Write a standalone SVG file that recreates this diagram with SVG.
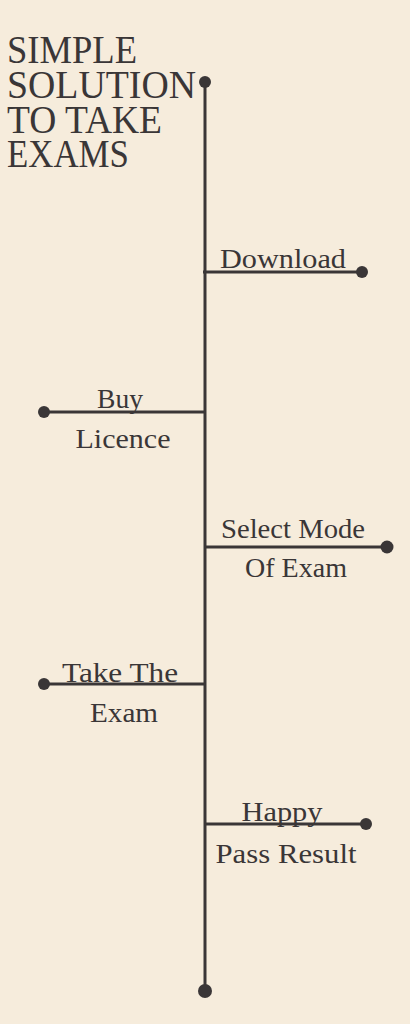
<svg xmlns="http://www.w3.org/2000/svg" width="410" height="1024" viewBox="0 0 410 1024">
<style>
.title{font-family:"Liberation Serif","DejaVu Serif",serif;font-size:41px;fill:#3a3637;}
.lbl{font-family:"Liberation Serif","DejaVu Serif",serif;font-size:28px;fill:#3a3637;text-anchor:middle;}
.ln{stroke:#3a3637;stroke-width:3;fill:none;}
.dot{fill:#3a3637;}
</style>
<rect width="410" height="1024" fill="#f6ecdc"/>
<g id="title">
<text class="title" x="7" y="63" textLength="130" lengthAdjust="spacingAndGlyphs">SIMPLE</text>
<text class="title" x="7" y="98" textLength="189" lengthAdjust="spacingAndGlyphs">SOLUTION</text>
<text class="title" x="7" y="133" textLength="155" lengthAdjust="spacingAndGlyphs">TO TAKE</text>
<text class="title" x="7" y="167" textLength="122" lengthAdjust="spacingAndGlyphs">EXAMS</text>
</g>
<g id="connectors">
<line class="ln" x1="205" y1="82" x2="205" y2="991"/>
<line class="ln" x1="203" y1="272" x2="362" y2="272"/>
<line class="ln" x1="44" y1="412" x2="205" y2="412"/>
<line class="ln" x1="205" y1="547" x2="387" y2="547"/>
<line class="ln" x1="44" y1="684" x2="205" y2="684"/>
<line class="ln" x1="205" y1="824" x2="366" y2="824"/>
<circle class="dot" cx="205" cy="82" r="6"/>
<circle class="dot" cx="205" cy="991" r="7"/>
</g>
<g id="download">
<circle class="dot" cx="362" cy="272" r="6"/>
<text class="lbl" x="283" y="268" textLength="126" lengthAdjust="spacingAndGlyphs">Download</text>
</g>
<g id="buy-licence">
<circle class="dot" cx="44" cy="412" r="6"/>
<text class="lbl" x="120" y="408" textLength="46" lengthAdjust="spacingAndGlyphs">Buy</text>
<text class="lbl" x="123" y="448" textLength="95" lengthAdjust="spacingAndGlyphs">Licence</text>
</g>
<g id="select-mode">
<circle class="dot" cx="387" cy="547" r="6.5"/>
<text class="lbl" x="293" y="538" textLength="144" lengthAdjust="spacingAndGlyphs">Select Mode</text>
<text class="lbl" x="296" y="577" textLength="102" lengthAdjust="spacingAndGlyphs">Of Exam</text>
</g>
<g id="take-exam">
<circle class="dot" cx="44" cy="684" r="6"/>
<text class="lbl" x="120" y="682" textLength="116" lengthAdjust="spacingAndGlyphs">Take The</text>
<text class="lbl" x="124" y="722" textLength="68" lengthAdjust="spacingAndGlyphs">Exam</text>
</g>
<g id="happy-pass">
<circle class="dot" cx="366" cy="824" r="6"/>
<text class="lbl" x="282" y="821" textLength="81" lengthAdjust="spacingAndGlyphs">Happy</text>
<text class="lbl" x="286" y="863" textLength="141" lengthAdjust="spacingAndGlyphs">Pass Result</text>
</g>
</svg>
